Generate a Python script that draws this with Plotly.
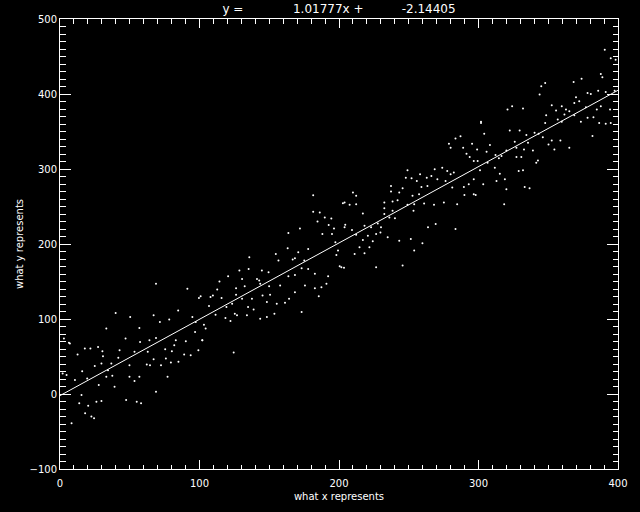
import plotly.graph_objects as go

# fit coefficients shown in the title
slope = 1.01777
intercept = -2.14405

# scatter points (x, y)
x_vals = [
    68.8, 91.3, 99.6, 39.9, 50.3, 67.1, 84.7, 71.6, 78.3, 56.9, 33.2, 97.3, 94.9, 2.8, 7.1,
    47.0, 64.1, 68.8, 57.4, 83.0, 90.2, 81.9, 96.8, 102.0, 17.8, 21.8, 27.3, 30.4, 42.7, 12.6,
    30.8, 53.4, 62.9, 75.4, 80.2, 89.0, 93.7, 99.2, 41.8, 67.1, 62.2, 64.5, 72.4, 75.9, 79.5,
    84.9, 24.9, 29.7, 36.8, 49.8, 15.9, 34.4, 19.5, 33.2, 37.5, 49.8, 56.9, 53.4, 77.1, 10.7,
    1.9, 4.7, 27.8, 39.1, 68.8, 15.4, 13.8, 26.1, 29.7, 47.4, 55.0, 58.1, 20.2, 18.0, 22.5,
    24.4, 8.3, 6.4,
    181.5, 202.8, 181.5, 186.2, 189.8, 194.5, 184.6, 192.6, 172.0, 196.4, 163.7, 188.1, 195.0, 197.4, 163.2,
    177.9, 154.7, 170.8, 168.4, 156.6, 166.8, 135.7, 175.1, 198.1, 200.5, 135.2, 128.6, 144.7, 149.5, 120.5,
    130.5, 141.2, 142.8, 177.9, 173.2, 182.7, 192.2, 114.3, 112.7, 126.2, 132.4, 143.5, 149.9, 163.7, 157.8,
    168.4, 175.6, 182.7, 187.4, 191.0, 109.6, 107.9, 115.8, 126.2, 130.5, 137.6, 145.2, 150.6, 168.4, 164.2,
    185.5, 100.8, 106.8, 119.3, 123.4, 134.8, 138.8, 148.3, 155.4, 161.3, 125.3, 126.9, 118.6, 134.0, 148.3,
    143.5, 153.7, 173.2, 111.5, 122.2, 103.2, 104.4, 102.0, 124.5,
    301.8, 287.1, 283.5, 278.8, 280.0, 289.0, 291.4, 293.7, 295.4, 299.0, 296.6, 249.1, 268.6, 274.0, 277.6,
    258.1, 262.9, 266.2, 280.0, 282.3, 247.9, 252.0, 255.8, 270.5, 276.4, 296.6, 237.3, 245.6, 259.1, 263.4,
    281.2, 289.5, 293.0, 237.3, 243.2, 212.3, 210.0, 252.7, 257.4, 289.9, 296.6, 204.0, 207.6, 212.3, 232.5,
    238.4, 242.0, 249.1, 253.9, 261.0, 268.1, 275.2, 284.7, 217.1, 232.5, 238.4, 253.4, 204.5, 209.3, 232.5,
    236.1, 240.1, 269.3, 263.8, 283.5, 218.3, 223.0, 227.8, 230.1, 204.0, 212.3, 217.1, 220.7, 224.2, 226.6,
    229.7, 234.9, 243.2, 251.5, 259.8, 221.8, 214.7, 211.2, 218.3, 253.9, 201.7, 203.6, 226.6, 245.6, 199.3,
    390.5, 394.8, 398.3, 387.7, 388.8, 373.9, 368.2, 347.8, 345.0, 343.8, 369.9, 378.2, 380.5, 385.8, 391.2,
    397.6, 368.7, 372.2, 377.0, 384.8, 387.7, 394.3, 324.1, 320.8, 331.9, 352.5, 359.7, 362.7, 355.6, 361.6,
    365.1, 348.5, 347.8, 356.8, 359.7, 368.7, 373.4, 378.2, 382.4, 386.5, 391.2, 394.8, 301.8, 304.1, 322.4,
    329.5, 334.3, 340.2, 343.1, 346.1, 352.5, 358.7, 350.2, 354.4, 365.1, 381.7, 326.0, 335.5, 327.2, 332.6,
    339.0, 308.2, 305.8, 312.2, 316.5, 320.0, 299.4, 306.5, 314.6, 327.2, 330.7, 341.4, 342.6, 301.1, 311.7,
    315.3, 328.8, 331.9, 303.4, 312.9, 318.9, 320.0, 333.1, 336.6, 318.4, 298.0,
]
y_vals = [
    146.9, 140.3, 127.9, 108.0, 102.6, 104.9, 111.5, 96.0, 99.5, 88.0, 87.2, 96.0, 102.6, 73.9, 67.2,
    73.9, 71.7, 74.8, 69.5, 71.7, 70.3, 65.0, 82.7, 71.7, 60.6, 60.6, 62.8, 57.1, 58.4, 52.6,
    50.4, 56.2, 56.2, 59.7, 57.1, 52.6, 51.8, 58.4, 48.2, 46.4, 39.4, 38.5, 38.5, 47.3, 42.0,
    42.9, 37.2, 40.7, 40.7, 38.5, 30.5, 31.8, 20.8, 23.0, 24.3, 23.0, 23.0, 17.2, 23.0, 18.6,
    27.4, 25.2, 11.9, 9.7, 3.1, -1.3, -12.4, -10.2, -9.3, -8.0, -10.2, -12.4, -15.5, -25.7, -30.1,
    -32.3, -39.0, 68.2,
    265.0, 254.4, 242.9, 242.0, 235.4, 234.1, 230.1, 225.2, 220.8, 220.8, 214.6, 213.3, 213.3, 202.2, 194.2,
    193.4, 186.7, 188.9, 181.0, 177.9, 179.2, 182.3, 177.9, 185.4, 170.3, 166.8, 164.6, 164.6, 162.4, 157.1,
    153.5, 153.5, 151.3, 166.8, 167.7, 160.2, 157.1, 150.0, 139.4, 141.1, 143.8, 146.9, 143.8, 157.1, 144.7,
    158.8, 144.7, 141.1, 142.5, 146.9, 131.4, 129.2, 127.9, 132.3, 127.0, 127.0, 131.4, 132.3, 135.8, 127.0,
    130.5, 130.5, 117.2, 115.9, 120.3, 115.9, 112.8, 122.6, 120.3, 121.7, 107.1, 104.9, 101.3, 104.9, 102.6,
    100.4, 107.1, 109.3, 105.7, 97.3, 92.5, 87.2, 71.7, 55.3,
    362.9, 343.8, 340.7, 333.7, 328.4, 328.4, 320.4, 316.0, 333.7, 326.1, 310.7, 298.3, 299.6, 301.8, 297.4,
    293.0, 288.5, 290.7, 293.0, 295.2, 288.5, 287.6, 284.1, 286.3, 284.1, 286.3, 277.5, 274.4, 276.1, 277.5,
    275.3, 276.1, 279.7, 269.9, 268.6, 264.2, 268.6, 264.2, 266.4, 265.5, 266.4, 255.3, 252.2, 253.1, 255.3,
    256.7, 258.4, 252.2, 253.1, 254.0, 252.2, 255.3, 253.1, 240.7, 247.8, 244.3, 244.3, 225.7, 218.6, 239.9,
    235.4, 234.5, 226.6, 222.2, 220.0, 224.4, 222.2, 227.5, 222.2, 222.2, 212.4, 205.3, 211.1, 203.6, 213.3,
    215.5, 208.9, 204.5, 206.7, 200.9, 195.6, 195.6, 186.7, 187.6, 191.2, 169.1, 168.2, 169.1, 171.3, 191.2,
    458.9, 447.8, 445.6, 426.6, 422.2, 420.4, 416.0, 414.6, 410.2, 399.2, 395.6, 401.4, 400.0, 404.5, 402.7,
    404.5, 388.1, 390.3, 382.3, 379.2, 383.7, 379.2, 383.7, 379.2, 380.6, 385.0, 383.7, 379.2, 377.9, 372.6,
    377.0, 371.7, 361.5, 366.0, 362.9, 371.7, 362.9, 368.2, 369.1, 361.5, 360.2, 361.5, 361.5, 347.0, 351.4,
    351.4, 345.2, 348.3, 347.0, 342.5, 338.1, 338.1, 332.8, 326.1, 328.4, 343.9, 336.3, 335.0, 328.4, 326.1,
    324.8, 331.9, 323.0, 318.6, 317.3, 324.8, 310.7, 308.4, 314.2, 316.0, 316.0, 308.4, 311.5, 298.3, 301.8,
    293.8, 297.4, 298.3, 279.7, 284.1, 286.3, 273.0, 276.1, 274.4, 253.1, 265.5,
]

line_x = [0, 400]
line_y = [slope * v + intercept for v in line_x]

nb = "\u00a0"
title_text = "y =" + nb * 13 + f"{slope:.5f}x +" + nb * 10 + f"{intercept:.5f}"

fig = go.Figure()
fig.add_trace(go.Scatter(x=x_vals, y=y_vals, mode="markers",
                         marker=dict(color="white", size=2, line=dict(width=0))))
fig.add_trace(go.Scatter(x=line_x, y=line_y, mode="lines",
                         line=dict(color="white", width=1)))

axis_common = dict(showline=True, linecolor="white", linewidth=1, mirror="allticks",
                   ticks="inside", tickcolor="white", tickwidth=1,
                   showgrid=False, zeroline=False, tick0=0, dtick=100,
                   tickfont=dict(size=10, color="white"))

fig.update_xaxes(range=[0, 400], ticklen=9, ticklabelstandoff=5,
                 minor=dict(dtick=10, ticks="inside", ticklen=4.5, tickcolor="white", tickwidth=1),
                 title=dict(text="what x represents", standoff=4, font=dict(size=10)),
                 **axis_common)
fig.update_yaxes(range=[-100, 500], ticklen=11,
                 minor=dict(dtick=10, ticks="inside", ticklen=5.5, tickcolor="white", tickwidth=1),
                 title=dict(text="what y represents", standoff=4, font=dict(size=10)),
                 **axis_common)

fig.update_layout(width=640, height=512,
                  margin=dict(l=60, r=18, t=19, b=41),
                  paper_bgcolor="black", plot_bgcolor="black",
                  showlegend=False,
                  font=dict(family="DejaVu Sans", size=10, color="white"),
                  title=dict(text=title_text, x=0.5, xref="paper", xanchor="center",
                             y=1 - 9 / 512, yref="container", yanchor="middle",
                             font=dict(size=12, color="white")))

# drop the page's default body margin so the figure sits at the window corner
fig.write_html("out.html", config={"displayModeBar": False},
               post_script="document.body.style.margin='0';document.body.style.background='black';")
